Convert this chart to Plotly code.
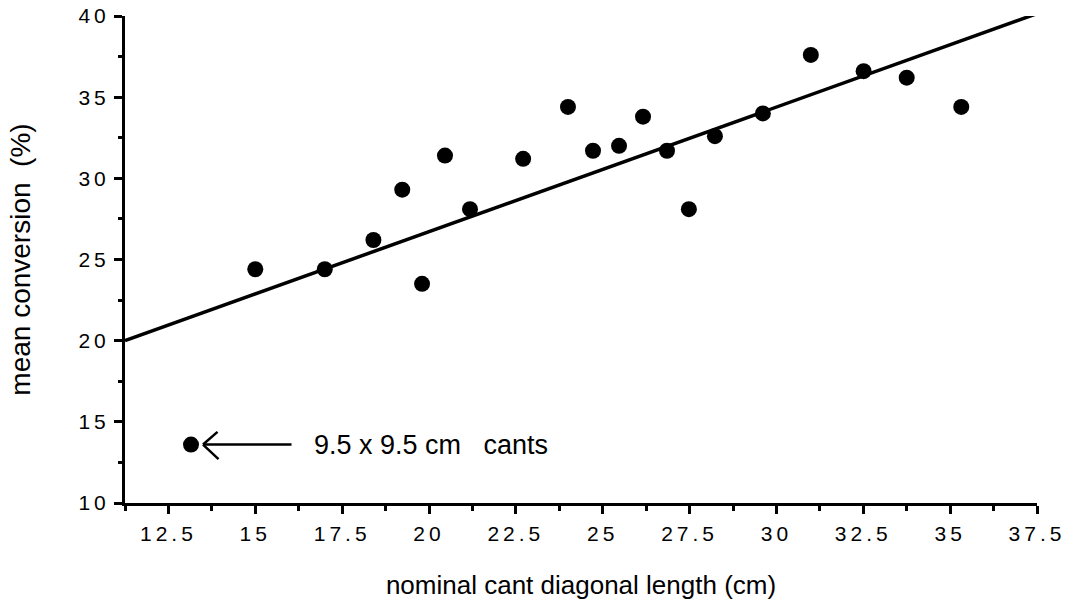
import plotly.graph_objects as go

# Data
cant_diag = [13.15, 15.0, 17.0, 18.4, 19.23, 19.8, 20.46, 21.18, 22.71, 24.0, 24.72,
             25.47, 26.16, 26.85, 27.48, 28.23, 29.61, 30.99, 32.51, 33.75, 35.32]
conversion = [13.6, 24.4, 24.4, 26.2, 29.3, 23.5, 31.4, 28.1, 31.2, 34.4, 31.7,
              32.0, 33.8, 31.7, 28.1, 32.6, 34.0, 37.6, 36.6, 36.2, 34.4]
fit_x = [11.25, 37.44]
fit_y = [20.0, 40.1]
x_ticks = [12.5, 15, 17.5, 20, 22.5, 25, 27.5, 30, 32.5, 35, 37.5]
x_ticklabels = ["12.5", "15", "17.5", "20", "22.5", "25", "27.5", "30", "32.5", "35", "37.5"]
y_ticks = [10, 15, 20, 25, 30, 35, 40]
y_ticklabels = ["10", "15", "20", "25", "30", "35", "40"]

FONT = "Liberation Sans, Arial, Helvetica, sans-serif"

fig = go.Figure()
fig.add_trace(go.Scatter(x=fit_x, y=fit_y, mode="lines",
                         line=dict(color="black", width=3.5), showlegend=False))
fig.add_trace(go.Scatter(x=cant_diag, y=conversion, mode="markers",
                         marker=dict(color="black", size=16, symbol="circle"),
                         showlegend=False, cliponaxis=False))

# open arrow (shaft + two chevron arms) pointing at the 9.5 x 9.5 cm cants point
for ax_off, ay_off in [(90, 0), (16, -14), (17, 16)]:
    fig.add_annotation(x=cant_diag[0], y=conversion[0], xref="x", yref="y",
                       text="", showarrow=True, ax=ax_off, ay=ay_off, xshift=12,
                       arrowhead=0, arrowwidth=2.5, arrowcolor="black", standoff=0)
fig.add_annotation(x=cant_diag[0], y=conversion[0], xref="x", yref="y",
                   text="9.5 x 9.5 cm&nbsp;&nbsp; cants", showarrow=False,
                   xanchor="left", yanchor="middle", xshift=121,
                   font=dict(family=FONT, size=27, color="black"))

fig.update_layout(
    width=1070, height=609,
    margin=dict(l=125, r=33, t=16, b=106),
    paper_bgcolor="white", plot_bgcolor="white",
    font=dict(family=FONT, color="black"),
    xaxis=dict(
        range=[11.25, 37.5], showgrid=False, zeroline=False, automargin=False,
        showline=True, linecolor="black", linewidth=3,
        tickmode="array", tickvals=x_ticks, ticktext=x_ticklabels,
        ticks="outside", ticklen=8, tickwidth=3, tickcolor="black",
        ticklabelstandoff=2,
        tickfont=dict(family=FONT, size=21, color="black"),
        minor=dict(dtick=1.25, tick0=11.25, ticks="outside", ticklen=5,
                   tickwidth=3, tickcolor="black", showgrid=False),
        title=dict(text="nominal cant diagonal length (cm)", standoff=32,
                   font=dict(family=FONT, size=26, color="black")),
    ),
    yaxis=dict(
        range=[10, 40], showgrid=False, zeroline=False, automargin=False,
        showline=True, linecolor="black", linewidth=3,
        tickmode="array", tickvals=y_ticks, ticktext=y_ticklabels,
        ticks="outside", ticklen=8, tickwidth=3, tickcolor="black",
        ticklabelstandoff=0,
        tickfont=dict(family=FONT, size=21, color="black"),
        minor=dict(dtick=2.5, tick0=10, ticks="outside", ticklen=4,
                   tickwidth=3, tickcolor="black", showgrid=False),
        title=dict(text="mean conversion&nbsp;&nbsp;(%)", standoff=48,
                   font=dict(family=FONT, size=28, color="black")),
    ),
)

post = """
document.body.style.margin = '0';
document.body.style.overflow = 'hidden';
var s = document.createElement('style');
s.innerHTML = '.xtick text, .ytick text { letter-spacing: 4px; }';
document.head.appendChild(s);
"""
fig.write_html("out.html", post_script=post, config={"displayModeBar": False})
